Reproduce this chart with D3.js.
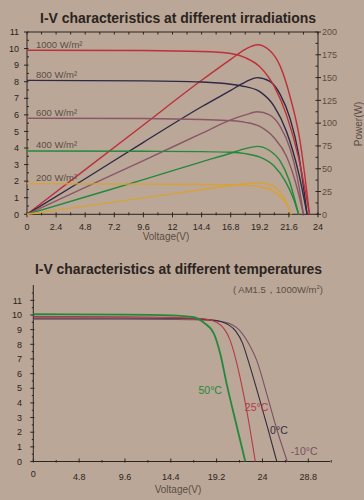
<!DOCTYPE html>
<html>
<head>
<meta charset="utf-8">
<script src="https://cdn.jsdelivr.net/npm/d3@7/dist/d3.min.js"></script>
<style>
  body { margin: 0; background: #baa797; }
  svg { display: block; }
  text { font-family: "Liberation Sans", Arial, sans-serif; }
</style>
</head>
<body>
<svg id="chart" width="364" height="500"></svg>
<script>
// ---- irradiation chart data: [voltage, current] and [voltage, power]
const irradLabels = ['1000 W/m²', '800 W/m²', '600 W/m²', '400 W/m²', '200 W/m²'];
const irradColors = ['#bf2f3a', '#2d2946', '#8a5668', '#23893c', '#d8a238'];

const iv1000 = [[0, 9.9], [9.6, 9.88], [14.4, 9.82], [16.8, 9.7], [18, 9.45], [19.2, 8.9], [20.4, 7.7], [21.4, 6], [22.4, 3.4], [23.3, 0]];
const iv800 = [[0, 8.08], [9.6, 8.05], [14.4, 7.98], [16.8, 7.85], [18, 7.7], [19.2, 7.4], [20.4, 6.5], [21.4, 5], [22.4, 2.5], [23.1, 0]];
const iv600 = [[0, 5.8], [9.6, 5.78], [14.4, 5.72], [16.8, 5.65], [18, 5.55], [19.2, 5.3], [20.4, 4.6], [21.4, 3.5], [22.2, 1.8], [22.8, 0]];
const iv400 = [[0, 3.82], [9.6, 3.8], [14.4, 3.78], [16.8, 3.74], [18, 3.66], [19.2, 3.45], [20.4, 2.9], [21.3, 2.0], [22, 0.9], [22.4, 0]];
const iv200 = [[0, 1.85], [9.6, 1.82], [14.4, 1.8], [16.8, 1.78], [18, 1.74], [19.2, 1.66], [20.2, 1.45], [21, 1.0], [21.5, 0.5], [21.8, 0]];

const pw1000 = [[0, 0], [4.8, 49], [9.6, 98], [14.4, 147], [16.8, 170], [18, 181], [19, 186], [20, 180], [20.9, 162], [21.7, 129], [22.5, 82], [23.3, 0]];
const pw800 = [[0, 0], [4.8, 39], [9.6, 79], [14.4, 118], [16.8, 136], [18, 145], [19, 150], [20, 146], [20.9, 131], [21.7, 105], [22.4, 66], [23.1, 0]];
const pw600 = [[0, 0], [4.8, 29.6], [9.6, 59], [14.4, 88.7], [16.8, 103.5], [18, 109], [19, 112.5], [20, 109], [20.9, 96], [21.7, 72], [22.3, 40], [22.8, 0]];
const pw400 = [[0, 0], [4.8, 19], [9.6, 38], [14.4, 57.5], [16.8, 67], [18, 72], [19, 74.5], [20, 70], [20.9, 58], [21.6, 38], [22.4, 0]];
const pw200 = [[0, 0], [4.8, 9], [9.6, 18], [14.4, 27], [16.8, 31.5], [18, 33.5], [19, 34.5], [19.8, 33.5], [20.6, 28], [21.2, 18], [21.8, 0]];

const ivSeries = [iv1000, iv800, iv600, iv400, iv200];
const pwSeries = [pw1000, pw800, pw600, pw400, pw200];

const topXTicks = [0, 2.4, 4.8, 7.2, 9.6, 12, 14.4, 16.8, 19.2, 21.6, 24];
const topYTicks = d3.range(0, 12);
const powerTicks = [0, 25, 50, 75, 100, 125, 150, 175, 200];

// ---- temperature chart data: [voltage, current]
const tempLabels = ['50°C', '25°C', '0°C', '-10°C'];
const tempColors = ['#23883c', '#b53a44', '#362c40', '#7c5064'];
const t50 = [[0, 10.05], [9.6, 10.03], [14.4, 9.98], [16.8, 9.85], [17.8, 9.5], [18.9, 8.75], [19.6, 7.3], [20.25, 5.3], [21.2, 2.7], [22.2, 0]];
const t25 = [[0, 9.9], [9.6, 9.88], [14.4, 9.84], [16.8, 9.78], [18, 9.72], [19.2, 9.5], [20.6, 8.3], [21.6, 5.9], [22.4, 3.3], [23.25, 0]];
const t0 = [[0, 9.8], [9.6, 9.8], [14.4, 9.78], [16.8, 9.75], [18, 9.7], [19.2, 9.62], [20.4, 9.35], [21.2, 8.9], [21.9, 8.1], [22.5, 6.9], [23.5, 4.7], [24.5, 2.4], [25.5, 0]];
const tm10 = [[0, 9.72], [9.6, 9.72], [14.4, 9.7], [16.8, 9.68], [18, 9.65], [19.2, 9.6], [20.4, 9.45], [21.6, 8.95], [22.6, 8.0], [23.4, 6.9], [24.5, 4.5], [25.5, 2.2], [26.6, 0]];
const tempSeries = [t50, t25, t0, tm10];
const tempLabelPos = [[17.3, 4.6], [22.15, 3.45], [24.8, 1.88], [26.95, 0.44]];

const botXTicks = [0, 4.8, 9.6, 14.4, 19.2, 24, 28.8];
const botYTicks = d3.range(0, 12);

const svg = d3.select('#chart');
const ink = '#2b2420';
const soft = '#5b4d45';

// ================= top chart =================
const x1 = d3.scaleLinear().domain([0, 24]).range([27, 318]);
const y1 = d3.scaleLinear().domain([0, 11]).range([214.3, 32]);
const yP = d3.scaleLinear().domain([0, 200]).range([214.3, 32]);

svg.append('text')
  .attr('x', 178).attr('y', 23)
  .attr('text-anchor', 'middle')
  .attr('font-size', 14).attr('font-weight', 'bold')
  .attr('textLength', 276).attr('lengthAdjust', 'spacingAndGlyphs')
  .attr('fill', ink)
  .text('I-V characteristics at different irradiations');

const axes1 = svg.append('g').attr('stroke', ink).attr('stroke-width', 1);

// frame lines
axes1.append('line').attr('x1', x1(0)).attr('x2', x1(24)).attr('y1', y1(0)).attr('y2', y1(0));
axes1.append('line').attr('x1', x1(0)).attr('x2', x1(24)).attr('y1', y1(11)).attr('y2', y1(11));
axes1.append('line').attr('x1', x1(0)).attr('x2', x1(0)).attr('y1', y1(0)).attr('y2', y1(11));
axes1.append('line').attr('x1', x1(24)).attr('x2', x1(24)).attr('y1', y1(0)).attr('y2', y1(11));

// left ticks: majors crossing, minors inward
axes1.selectAll('.ly').data(topYTicks).join('line')
  .attr('x1', x1(0) - 3).attr('x2', x1(0) + 1.5)
  .attr('y1', d => y1(d)).attr('y2', d => y1(d));
axes1.selectAll('.lym').data(topYTicks.slice(0, -1).map(d => d + 0.5)).join('line')
  .attr('x1', x1(0)).attr('x2', x1(0) + 2)
  .attr('y1', d => y1(d)).attr('y2', d => y1(d));

// bottom and top x ticks every 1.2 V
const topMinorX = d3.range(0, 24.01, 1.2);
svg.append('g').attr('stroke', ink).selectAll('line').data(topMinorX).join('line')
  .attr('x1', d => x1(d)).attr('x2', d => x1(d))
  .attr('y1', y1(0) - 2).attr('y2', d => y1(0) + (topXTicks.some(t => Math.abs(t - d) < 1e-6) ? 3 : 1));
svg.append('g').attr('stroke', ink).selectAll('line').data(topMinorX).join('line')
  .attr('x1', d => x1(d)).attr('x2', d => x1(d))
  .attr('y1', y1(11)).attr('y2', y1(11) + 2.5);

// right power ticks
const pMinor = d3.range(0, 200.1, 12.5);
svg.append('g').attr('stroke', ink).selectAll('line').data(pMinor).join('line')
  .attr('x1', x1(24) - 2.5)
  .attr('x2', d => x1(24) + (d % 25 === 0 ? 3 : 0))
  .attr('y1', d => yP(d)).attr('y2', d => yP(d));

svg.append('g').attr('font-size', 9).attr('fill', ink).attr('text-anchor', 'end')
  .selectAll('text').data(topYTicks).join('text')
  .attr('x', 19).attr('y', d => y1(d) + 3.2).text(d => d);

svg.append('g').attr('font-size', 9).attr('fill', ink).attr('text-anchor', 'middle')
  .selectAll('text').data(topXTicks).join('text')
  .attr('x', d => x1(d)).attr('y', 229.5).text(d => d);

svg.append('g').attr('font-size', 9).attr('fill', soft).attr('text-anchor', 'start')
  .selectAll('text').data(powerTicks).join('text')
  .attr('x', 322).attr('y', d => yP(d) + 3.2).text(d => d);

svg.append('text').attr('x', 166).attr('y', 240)
  .attr('text-anchor', 'middle').attr('font-size', 10).attr('fill', soft)
  .text('Voltage(V)');

svg.append('text')
  .attr('transform', 'translate(358,124) rotate(-90)')
  .attr('text-anchor', 'middle').attr('dy', '0.35em')
  .attr('font-size', 10).attr('fill', soft)
  .text('Power(W)');

const line1 = d3.line().x(d => x1(d[0])).y(d => y1(d[1])).curve(d3.curveMonotoneX);
const lineP = d3.line().x(d => x1(d[0])).y(d => yP(d[1])).curve(d3.curveMonotoneX);

const curves1 = svg.append('g').attr('fill', 'none').attr('stroke-width', 1.4);
curves1.selectAll('.pw').data(pwSeries).join('path')
  .attr('stroke', (d, i) => irradColors[i]).attr('d', lineP);
curves1.selectAll('.iv').data(ivSeries).join('path')
  .attr('stroke', (d, i) => irradColors[i]).attr('d', line1);

svg.append('g').attr('font-size', 9.5).attr('fill', soft)
  .selectAll('text').data(irradLabels).join('text')
  .attr('x', 36).attr('y', (d, i) => y1(ivSeries[i][0][1]) - 2.5)
  .text(d => d);

// ================= bottom chart =================
const x2 = d3.scaleLinear().domain([0, 28.8]).range([33.3, 308.3]);
const y2 = d3.scaleLinear().domain([0, 10]).range([461.5, 315]);

svg.append('text')
  .attr('x', 178.5).attr('y', 274)
  .attr('text-anchor', 'middle')
  .attr('font-size', 14).attr('font-weight', 'bold')
  .attr('textLength', 287).attr('lengthAdjust', 'spacingAndGlyphs')
  .attr('fill', ink)
  .text('I-V characteristics at different temperatures');

const sub = svg.append('text').attr('x', 323).attr('y', 293)
  .attr('text-anchor', 'end').attr('font-size', 9.5).attr('fill', soft);
sub.append('tspan').text('( AM1.5，1000W/m');
sub.append('tspan').attr('font-size', 6).attr('dy', -4).text('2');
sub.append('tspan').attr('dy', 4).text(')');

const axes2 = svg.append('g').attr('stroke', ink);
axes2.append('line').attr('x1', x2(0)).attr('x2', 330).attr('y1', y2(0)).attr('y2', y2(0));
axes2.append('line').attr('x1', x2(0)).attr('x2', x2(0)).attr('y1', y2(0)).attr('y2', 285);

axes2.selectAll('.by').data(botYTicks).join('line')
  .attr('x1', x2(0) - 3).attr('x2', x2(0) + 1)
  .attr('y1', d => y2(d)).attr('y2', d => y2(d));
axes2.selectAll('.bym').data(d3.range(0.5, 11.6, 1)).join('line')
  .attr('x1', x2(0) - 1.5).attr('x2', x2(0))
  .attr('y1', d => y2(d)).attr('y2', d => y2(d));

const botMinorX = d3.range(0, 31.3, 2.4);
axes2.selectAll('.bx').data(botMinorX).join('line')
  .attr('x1', d => x2(d)).attr('x2', d => x2(d))
  .attr('y1', d => y2(0) - (botXTicks.some(t => Math.abs(t - d) < 1e-6) ? 3 : 1.5))
  .attr('y2', y2(0) + 1);

svg.append('g').attr('font-size', 9).attr('fill', ink).attr('text-anchor', 'end')
  .selectAll('text').data(botYTicks).join('text')
  .attr('x', 22).attr('y', d => y2(d) + 3.2).text(d => d);

svg.append('g').attr('font-size', 9).attr('fill', ink).attr('text-anchor', 'middle')
  .selectAll('text').data(botXTicks).join('text')
  .attr('x', d => x2(d)).attr('y', d => (d === 0 ? 476.5 : 479.5)).text(d => d);

svg.append('text').attr('x', 178).attr('y', 493)
  .attr('text-anchor', 'middle').attr('font-size', 10).attr('fill', soft)
  .text('Voltage(V)');

const line2 = d3.line().x(d => x2(d[0])).y(d => y2(d[1])).curve(d3.curveMonotoneX);
svg.append('g').attr('fill', 'none')
  .selectAll('path').data(tempSeries.slice().reverse()).join('path')
  .attr('stroke', (d, i) => tempColors[tempSeries.length - 1 - i])
  .attr('stroke-width', (d, i) => (i === tempSeries.length - 1 ? 1.8 : 1.1))
  .attr('d', line2);

svg.append('g').attr('font-size', 10.5)
  .selectAll('text').data(tempLabels).join('text')
  .attr('x', (d, i) => x2(tempLabelPos[i][0]))
  .attr('y', (d, i) => y2(tempLabelPos[i][1]))
  .attr('fill', (d, i) => tempColors[i])
  .text(d => d);
</script>
</body>
</html>
